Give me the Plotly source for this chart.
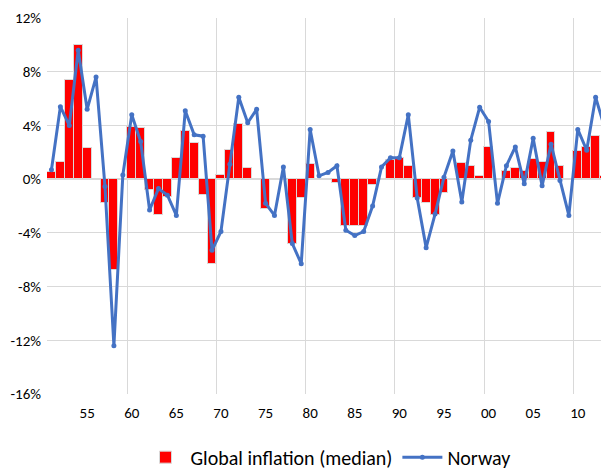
import plotly.graph_objects as go

# Years 1951-2013
years = list(range(1951, 2014))

# Global inflation (median), %
global_median = [
    0.5, 1.3, 7.4, 10.0, 2.3, 0.0, -1.8, -6.8, 0.0, 3.9,   # 1951-1960
    3.8, -0.8, -2.7, -1.3, 1.6, 3.6, 2.7, -1.2, -6.3, 0.3,  # 1961-1970
    2.2, 4.1, 0.8, 0.0, -2.2, 0.0, 0.0, -4.8, -1.4, 1.1,    # 1971-1980
    0.0, 0.0, -0.3, -3.5, -3.5, -3.5, -0.4, 0.0, 1.4, 1.6,  # 1981-1990
    1.0, -1.4, -1.8, -2.7, -1.0, 0.0, 1.2, 1.0, 0.25, 2.4,  # 1991-2000
    0.0, 0.6, 0.8, 0.6, 1.5, 1.3, 3.5, 1.0, 0.0, 2.1,       # 2001-2010
    2.4, 3.2, 0.27,                                         # 2011-2013
]

# Norway, %
norway = [
    0.7, 5.4, 4.0, 9.6, 5.2, 7.6, -0.55, -12.4, 0.3, 4.8,   # 1951-1960
    2.8, -2.3, -0.7, -1.2, -2.7, 5.1, 3.3, 3.2, -5.3, -3.9, # 1961-1970
    1.1, 6.1, 4.2, 5.2, -1.8, -2.7, 0.9, -4.8, -6.3, 3.7,   # 1971-1980
    0.25, 0.5, 1.0, -3.8, -4.2, -3.9, -2.0, 0.9, 1.6, 1.6,  # 1981-1990
    4.8, -1.4, -5.1, -2.6, 0.15, 2.1, -1.7, 2.9, 5.35, 4.3, # 1991-2000
    -1.8, 1.0, 2.4, -0.35, 3.05, -0.5, 2.6, -0.1, -2.7, 3.7,# 2001-2010
    2.15, 6.1, 3.85,                                        # 2011-2013
]

tick_years = list(range(1955, 2011, 5))
tick_labels = ["55", "60", "65", "70", "75", "80", "85", "90", "95", "00", "05", "10"]
y_ticks = [-16, -12, -8, -4, 0, 4, 8, 12]
y_labels = ["-16%", "-12%", "-8%", "-4%", "0%", "4%", "8%", "12%"]

FONT = "Carlito, Calibri, Lato, sans-serif"
GRID = "#d9d9d9"

fig = go.Figure()

fig.add_trace(go.Bar(
    x=years, y=global_median, name="Global inflation (median)",
    marker=dict(color="#ff0000", line=dict(color="#d9d9d9", width=1)),
))
fig.add_trace(go.Scatter(
    x=years, y=norway, name="Norway", mode="lines+markers",
    line=dict(color="#4472c4", width=3),
    marker=dict(size=5, color="#4472c4"),
))

# page body has an 8px margin, so the figure is a bit smaller than the window
fig.update_layout(
    width=601, height=464,
    margin=dict(l=39, r=0, t=10, b=78),
    paper_bgcolor="white", plot_bgcolor="white",
    bargap=0,
    font=dict(family=FONT, size=15, color="#000000"),
    showlegend=True,
    legend=dict(orientation="h", x=0.5, xanchor="center",
                yref="container", y=0.032, yanchor="middle",
                font=dict(size=20), itemwidth=40),
)

fig.update_xaxes(
    range=[1950.5, 2013.5], automargin=False,
    tickmode="array", tickvals=tick_years, ticktext=tick_labels,
    showgrid=False, zeroline=False, showline=False,
    ticks="outside", ticklen=5, tickcolor="rgba(0,0,0,0)",
    minor=dict(tick0=1959.5, dtick=10, showgrid=True, gridcolor=GRID, gridwidth=1),
)
fig.update_yaxes(
    range=[-16, 12], automargin=False,
    tickmode="array", tickvals=y_ticks, ticktext=y_labels,
    showgrid=True, gridcolor=GRID, gridwidth=1,
    zeroline=False, showline=False,
    ticks="outside", ticklen=2, tickcolor="rgba(0,0,0,0)",
)

fig.write_html("out.html")
